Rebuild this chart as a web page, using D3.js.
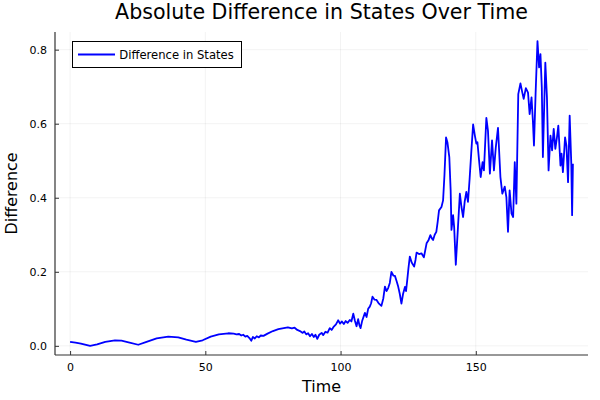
<!DOCTYPE html>
<html><head><meta charset="utf-8">
<script src="https://cdn.jsdelivr.net/npm/d3@7"></script>
<style>body{margin:0;background:#fff}svg{display:block}text{font-family:"DejaVu Sans",sans-serif;fill:#000}</style>
</head><body><div id="chart"></div>
<script>
const title = "Absolute Difference in States Over Time";
const xLabel = "Time";
const yLabel = "Difference";
const seriesName = "Difference in States";
const xTicks = [0, 50, 100, 150];
const yTicks = [0.0, 0.2, 0.4, 0.6, 0.8];
const time = [0,2,4,7.4,10,13,16.6,19,22,25.2,28,32,36.3,40,43,46.5,49,52,55,58.5,60.5,61.5,62.5,63.3,64,64.8,65.5,66.3,67,67.6,68.3,69,69.8,70.5,71.5,73,75,77,79,80.5,82,83,84,85,86,86.6,87.3,88,88.7,89.4,90.1,90.7,91.4,92.1,93,93.6,94.4,95.2,96,96.7,97.5,98.3,99.1,99.8,100.5,101.2,101.9,102.6,103.4,104,104.7,105.3,105.9,106.5,107,107.4,108,109,109.6,110.2,110.8,111.3,111.8,112.5,113.3,114.2,115.1,115.8,116.4,117,117.6,118.2,118.8,119.5,120.1,120.7,121.3,121.9,122.5,123.1,123.8,124.2,124.6,125.1,125.6,126.3,127.2,127.7,128.1,129,129.9,130.4,130.8,131.3,131.8,132.5,133.2,133.7,134.2,134.8,135.4,135.9,136.4,137.3,137.9,138.4,139.0,139.5,140.2,140.7,141.0,141.6,142.0,142.6,143.4,144.1,144.7,145.3,145.9,146.5,147.1,147.7,148.3,149.0,149.6,150.2,150.6,151.2,151.8,152.5,153.0,153.9,154.5,155.2,156.0,156.7,157.4,158.2,159.1,159.8,160.7,161.3,161.9,162.5,163.2,163.8,164.4,165.0,165.7,166.5,167.2,167.7,168.5,169.3,169.9,170.6,171.1,171.5,172.1,172.8,173.4,173.9,174.4,174.8,175.7,176.3,176.9,177.6,178.2,178.8,179.4,180.0,180.5,181.3,181.7,182.2,183.0,183.5,184.1,184.7,185.3,185.6,185.9];
const diff = [0.011,0.009,0.006,0.000,0.004,0.011,0.015,0.014,0.009,0.003,0.010,0.020,0.025,0.023,0.017,0.011,0.015,0.025,0.031,0.034,0.033,0.031,0.032,0.028,0.030,0.025,0.027,0.021,0.014,0.024,0.020,0.026,0.023,0.028,0.027,0.033,0.040,0.045,0.048,0.050,0.047,0.049,0.043,0.040,0.035,0.039,0.031,0.034,0.026,0.032,0.024,0.030,0.019,0.030,0.035,0.029,0.038,0.036,0.048,0.043,0.052,0.058,0.069,0.060,0.066,0.059,0.067,0.062,0.070,0.066,0.087,0.068,0.053,0.072,0.055,0.048,0.068,0.089,0.078,0.100,0.106,0.115,0.133,0.125,0.124,0.114,0.108,0.128,0.160,0.148,0.156,0.170,0.200,0.190,0.189,0.175,0.160,0.140,0.114,0.140,0.159,0.148,0.174,0.210,0.241,0.225,0.214,0.232,0.252,0.248,0.250,0.244,0.239,0.258,0.277,0.285,0.299,0.291,0.286,0.300,0.308,0.335,0.366,0.375,0.393,0.46,0.563,0.55,0.51,0.42,0.313,0.353,0.32,0.219,0.32,0.411,0.375,0.348,0.39,0.416,0.389,0.45,0.52,0.598,0.57,0.546,0.55,0.501,0.456,0.496,0.474,0.616,0.581,0.465,0.555,0.474,0.537,0.589,0.456,0.411,0.43,0.402,0.308,0.42,0.357,0.348,0.496,0.384,0.68,0.709,0.684,0.667,0.696,0.684,0.626,0.671,0.608,0.541,0.68,0.823,0.752,0.788,0.698,0.51,0.765,0.671,0.474,0.568,0.528,0.586,0.532,0.563,0.595,0.487,0.519,0.469,0.563,0.541,0.442,0.622,0.492,0.353,0.492];

const W = 600, H = 400;
const m = {left: 55, right: 12, top: 32, bottom: 45};
const iw = W - m.left - m.right, ih = H - m.top - m.bottom;

const svg = d3.select("#chart").append("svg").attr("width", W).attr("height", H);
const data = time.map((t, i) => ({t, v: diff[i]}));

const xmin = d3.min(time), xmax = d3.max(time), ymin = d3.min(diff), ymax = d3.max(diff);
const xp = (xmax - xmin) * 0.03, yp = (ymax - ymin) * 0.03;
const x = d3.scaleLinear().domain([xmin - xp, xmax + xp]).range([m.left, m.left + iw]);
const y = d3.scaleLinear().domain([ymin - yp, ymax + yp]).range([m.top + ih, m.top]);

// grid
const g = svg.append("g");
g.selectAll(".gx").data(xTicks).join("line")
  .attr("x1", d => x(d)).attr("x2", d => x(d)).attr("y1", m.top).attr("y2", m.top + ih)
  .attr("stroke", "#000").attr("stroke-opacity", 0.1).attr("stroke-width", 0.5);
g.selectAll(".gy").data(yTicks).join("line")
  .attr("y1", d => y(d)).attr("y2", d => y(d)).attr("x1", m.left).attr("x2", m.left + iw)
  .attr("stroke", "#000").attr("stroke-opacity", 0.1).attr("stroke-width", 0.5);

// axes
const xAxis = svg.append("g").attr("transform", `translate(0,${m.top + ih})`)
  .call(d3.axisBottom(x).tickValues(xTicks).tickFormat(d3.format("d")).tickSize(-4).tickPadding(8));
const yAxis = svg.append("g").attr("transform", `translate(${m.left},0)`)
  .call(d3.axisLeft(y).tickValues(yTicks).tickFormat(d3.format(".1f")).tickSize(-4).tickPadding(8));
[xAxis, yAxis].forEach(a => {
  a.select(".domain").attr("stroke", "#333").attr("stroke-width", 1.2);
  a.selectAll(".tick line").attr("stroke", "#333").attr("stroke-width", 1);
  a.selectAll(".tick text").attr("font-size", 11).attr("font-family", "DejaVu Sans").attr("fill", "#000");
});
xAxis.select(".domain").attr("d", `M${m.left},0H${m.left + iw}`);
yAxis.select(".domain").attr("d", `M0,${m.top}V${m.top + ih}`);

// line
svg.append("path").datum(data)
  .attr("fill", "none").attr("stroke", "#0000ff").attr("stroke-width", 1.8).attr("stroke-linejoin", "round")
  .attr("d", d3.line().x(d => x(d.t)).y(d => y(d.v)));

// title & labels
svg.append("text").attr("x", m.left + iw / 2).attr("y", 18.5).attr("text-anchor", "middle")
  .attr("font-size", 20.6).text(title);
svg.append("text").attr("x", m.left + iw / 2).attr("y", 391.5).attr("text-anchor", "middle")
  .attr("font-size", 15.9).text(xLabel);
svg.append("text").attr("transform", `translate(16.7,${m.top + ih / 2}) rotate(-90)`).attr("text-anchor", "middle")
  .attr("font-size", 15.9).text(yLabel);

// legend
const lg = svg.append("g");
lg.append("rect").attr("x", 72.5).attr("y", 41.5).attr("width", 169).attr("height", 26)
  .attr("fill", "#fff").attr("stroke", "#000").attr("stroke-width", 1);
lg.append("line").attr("x1", 78).attr("x2", 115).attr("y1", 54.5).attr("y2", 54.5)
  .attr("stroke", "#0000ff").attr("stroke-width", 1.8);
lg.append("text").attr("x", 119.3).attr("y", 58.8).attr("font-size", 11.6).text(seriesName);
</script></body></html>
